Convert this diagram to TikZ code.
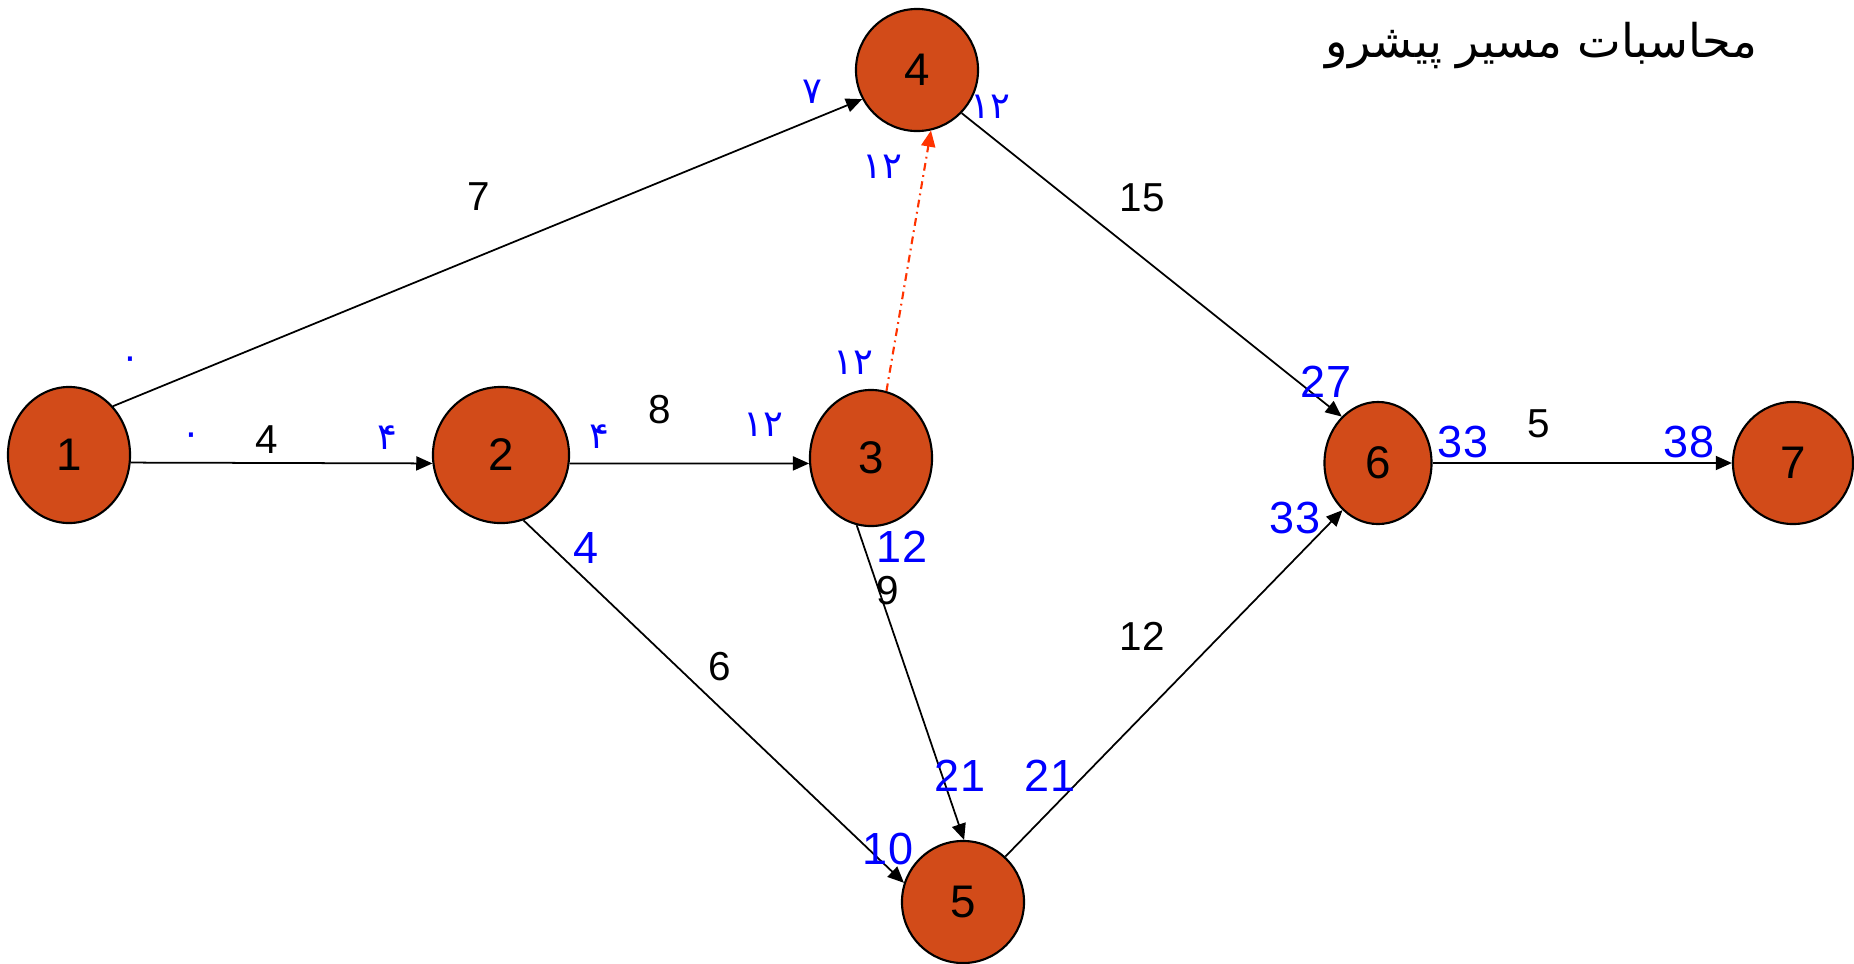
\documentclass[tikz,border=0pt]{standalone}
\usepackage{fontspec}
\setmainfont{Liberation Sans}
\newfontfamily\arabicfont[Script=Arabic]{DejaVu Sans}
\TeXXeTstate=1
\usetikzlibrary{shapes.geometric,arrows.meta}
\definecolor{nodefill}{RGB}{210,75,25}
\definecolor{dashred}{RGB}{255,51,0}
\tikzset{
  ev/.style={ellipse, draw=black, line width=0.6pt, fill=nodefill, inner sep=0pt, font=\fontsize{13}{15}\selectfont},
  act/.style={draw=black, line width=0.5pt, -{Triangle[length=4.6pt,width=4pt]}},
  dummy/.style={draw=dashred, line width=0.6pt, dash pattern=on 2.2pt off 1.3pt on 0.5pt off 1.3pt, -{Triangle[length=4.6pt,width=4pt]}},
  wt/.style={inner sep=0pt, font=\fontsize{11.5}{13}\selectfont},
  big/.style={inner sep=0pt, text=blue, font=\fontsize{12.8}{15}\selectfont},
  fa/.style={inner sep=0pt, text=blue, font=\arabicfont\fontsize{10.5}{13}\selectfont},
}
\begin{document}
\begin{tikzpicture}[x=0.01cm, y=-0.01cm]
\useasboundingbox (0,0) rectangle (1854,963);
% events
\node[ev, minimum width=1.22cm, minimum height=1.36cm] (n1) at (69,455) {1};
\node[ev, minimum width=1.36cm, minimum height=1.36cm] (n2) at (501,455) {2};
\node[ev, minimum width=1.22cm, minimum height=1.36cm] (n3) at (871,458) {3};
\node[ev, minimum width=1.22cm, minimum height=1.22cm] (n4) at (917,70) {4};
\node[ev, minimum width=1.22cm, minimum height=1.22cm] (n5) at (963,902) {5};
\node[ev, minimum width=1.07cm, minimum height=1.22cm] (n6) at (1378,463) {6};
\node[ev, minimum width=1.20cm, minimum height=1.22cm] (n7) at (1793,463) {7};
% activities
\draw[act] (n1.48) -- (n4.208);
\draw[act] (n1.-7) -- (n2.187);
\draw[act] (n2.-7) -- (n3.185);
\draw[dummy] (n3.77) -- (n4.283);
\draw[act] (n4.-44) -- (n6.128);
\draw[act] (n2.-71) -- (n5.162);
\draw[act] (n3.258) -- (n5.89);
\draw[act] (n5.47) -- (n6.233);
\draw[act] (n6.east) -- (n7.west);
% durations
\node[wt] (w14) at (479,197) {7};
\node[wt] (w12) at (267,440) {4};
\node[wt] (w23) at (660,410) {8};
\node[wt] (w46) at (1142,198) {15};
\node[wt] (w25) at (720,667) {6};
\node[wt] (w35) at (888,591) {9};
\node[wt] (w56) at (1142,636) {12};
\node[wt] (w67) at (1539,424) {5};
% blue latin numbers
\node[big] (b1) at (586,548) {4};
\node[big] (b2) at (902,547) {12};
\node[big] (b3) at (960,776) {21};
\node[big] (b4) at (1050,776) {21};
\node[big] (b5) at (888,849) {10};
\node[big] (b6) at (1326,382) {27};
\node[big] (b7) at (1463,442) {33};
\node[big] (b8) at (1295,518) {33};
\node[big] (b9) at (1689,442) {38};
% blue persian numbers
\node[fa] (p1) at (130,363) {۰};
\node[fa] (p2) at (191,439) {۰};
\node[fa] (p3) at (387,438) {۴};
\node[fa] (p4) at (599,437) {۴};
\node[fa] (p5) at (763,425) {۱۲};
\node[fa] (p6) at (853,363) {۱۲};
\node[fa] (p7) at (812,92) {۷};
\node[fa] (p8) at (990,107) {۱۲};
\node[fa] (p9) at (882,167) {۱۲};
% title
\node[anchor=east, inner sep=0pt, font=\arabicfont\fontsize{13.2}{16}\selectfont] (title) at (1758,46) {\beginR محاسبات مسیر پیشرو\endR};
\end{tikzpicture}
\end{document}
